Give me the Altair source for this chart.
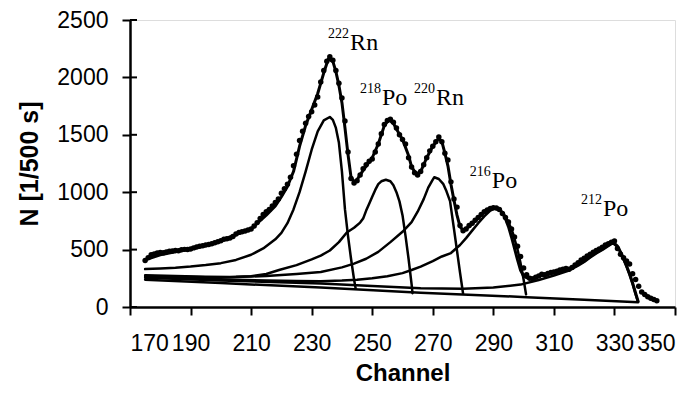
import altair as alt
import pandas as pd

# ---- measured spectrum (dots), one value per channel 175..344 ----
channels = list(range(175, 345))
counts = [
    405, 430, 455, 462, 470, 475, 472, 480, 485, 488,
    492, 490, 498, 502, 500, 506, 515, 522, 530, 534,
    540, 545, 550, 560, 568, 578, 590, 595, 600, 615,
    635, 650, 655, 662, 670, 680, 705, 735, 770, 805,
    830, 850, 880, 910, 940, 990, 1030, 1070, 1130, 1230,
    1330, 1450, 1530, 1600, 1660, 1700, 1760, 1830, 1960, 2060,
    2140, 2180, 2150, 2060, 1950, 1820, 1620, 1350, 1120, 1080,
    1100, 1150, 1205, 1240, 1270, 1290, 1350, 1420, 1510, 1590,
    1625, 1635, 1610, 1560, 1500, 1460, 1420, 1300, 1220, 1170,
    1150, 1180, 1240, 1300, 1360, 1400, 1440, 1480, 1440, 1340,
    1280, 1090, 940, 870, 710, 665, 680, 710, 730, 755,
    780, 805, 830, 845, 858, 865, 862, 850, 815, 780,
    740, 680, 610, 530, 440, 340, 280, 250, 245, 260,
    270, 285, 280, 292, 300, 305, 312, 322, 330, 335,
    328, 345, 365, 385, 410, 425, 445, 460, 478, 492,
    505, 520, 540, 550, 565, 575, 510, 460, 430, 400,
    375, 290, 240, 180, 130, 108, 90, 76, 65, 55,
]

# ---- total fit ----
fit_ch = [175, 180, 185, 190, 195, 200, 205, 210, 215, 218, 220, 222, 224, 226, 228, 230, 232, 234,
          235.5, 237, 238, 239, 240, 241, 242, 243, 244, 245, 247, 250, 252, 254, 255.5, 257, 258,
          260, 262, 263, 264.5, 266, 268, 270, 272, 273, 274, 275, 276, 277, 278, 279, 280, 282,
          284, 286, 288, 290, 292, 293, 294, 295, 296, 297, 298, 299, 300, 301, 302, 304, 306,
          310, 315, 318, 320, 322, 324, 326, 328, 329.5, 331, 332, 333, 334, 335, 336, 337, 337.8]
fit_n = [410, 455, 480, 505, 535, 575, 630, 680, 800, 880, 960, 1050, 1180, 1400, 1580, 1720, 1860, 2040,
         2160, 2140, 2050, 1930, 1780, 1560, 1330, 1130, 1090, 1110, 1190, 1300, 1420, 1580, 1630, 1600, 1550,
         1460, 1320, 1220, 1160, 1180, 1300, 1400, 1470, 1440, 1340, 1230, 1070, 930, 800, 700, 670, 700,
         750, 805, 845, 862, 850, 820, 770, 700, 610, 510, 410, 320, 270, 255, 250, 258, 275,
         300, 330, 370, 400, 440, 475, 505, 540, 565, 530, 480, 420, 360, 290, 210, 120, 50]

# ---- components ----
rn222_ch = [175, 180, 185, 190, 195, 200, 205, 210, 214, 218, 220, 222, 224, 226, 228, 230, 232, 234,
            236, 237, 238, 239, 240, 241, 242, 243, 244, 244.5]
rn222_n = [330, 335, 342, 352, 365, 382, 410, 455, 510, 590, 645, 730, 850, 1000, 1180, 1370, 1530, 1625,
           1655, 1630, 1560, 1430, 1180, 850, 620, 420, 240, 165]

po218_ch = [175, 185, 195, 203, 210, 215, 219.5, 225, 230, 233, 236, 239, 241.6, 244, 246, 247, 248, 249,
            250, 251, 252, 253, 254.5, 256, 257, 258, 259, 260, 261, 262, 263, 263.3]
po218_n = [277, 270, 264, 262, 268, 288, 325, 365, 415, 448, 492, 565, 649, 690, 735, 770, 840, 900,
           960, 1020, 1070, 1095, 1108, 1095, 1060, 1000, 920, 800, 620, 420, 200, 120]

rn220_ch = [175, 185, 195, 205, 215, 225, 233, 240, 244, 248, 252, 256, 260, 263, 265, 267, 268.5, 270,
            270.5, 272, 273.5, 274.5, 275.7, 277, 278, 279, 280]
rn220_n = [270, 264, 260, 261, 270, 287, 305, 345, 378, 420, 480, 565, 655, 740, 830, 940, 1040, 1110,
           1130, 1115, 1070, 1010, 922, 680, 490, 300, 118]

po216_ch = [175, 185, 195, 205, 215, 225, 233, 240, 245, 250, 255, 260, 263, 266, 270, 273, 276, 279,
            281, 283, 285, 287, 289, 290.5, 292, 293.5, 295, 296.5, 298, 299, 300, 300.8]
po216_n = [262, 254, 246, 238, 231, 226, 224, 230, 238, 250, 268, 295, 322, 352, 400, 440, 470, 540,
           600, 665, 730, 790, 840, 860, 850, 810, 740, 640, 500, 380, 240, 110]

po212_ch = [175, 200, 233, 250, 266, 280, 290, 299, 305, 310, 315, 318, 320, 322, 324, 326, 328, 329.5,
            331, 332, 333, 334, 335, 336, 337, 337.8]
po212_n = [255, 230, 205, 182, 164, 160, 170, 195, 235, 275, 318, 360, 392, 432, 467, 497, 532, 555,
           525, 475, 415, 350, 280, 200, 110, 45]

bg_ch = [175, 200, 233, 266, 301, 320, 337.8]
bg_n = [238, 208, 170, 124, 86, 63, 42]

# ---- peak labels ----
label_ch = [242.7, 253.2, 271.1, 289.5, 326.2]
label_n = [2241, 1759, 1759, 1034, 793]
label_el = ["Rn", "Po", "Rn", "Po", "Po"]
label_mass = ["222", "218", "220", "216", "212"]
sup_offset = 103

x_ticks = list(range(170, 351, 20))
y_ticks = [0, 500, 1000, 1500, 2000, 2500]

# ---- tables ----
dots = pd.DataFrame({"ch": channels, "n": counts})

parts = []
for name, cs, ns, w in [
    ("fit", fit_ch, fit_n, 3.0),
    ("rn222", rn222_ch, rn222_n, 2.5),
    ("po218", po218_ch, po218_n, 2.5),
    ("rn220", rn220_ch, rn220_n, 2.5),
    ("po216", po216_ch, po216_n, 2.5),
    ("po212", po212_ch, po212_n, 2.5),
    ("bg", bg_ch, bg_n, 2.5),
]:
    parts.append(pd.DataFrame({"ch": cs, "n": ns, "series": name, "w": w}))
lines = pd.concat(parts, ignore_index=True)

labels = pd.DataFrame({"ch": label_ch, "n": label_n, "el": label_el, "mass": label_mass,
                       "n_sup": [v + sup_offset for v in label_n]})
ticks_df = pd.DataFrame({"n": y_ticks})

xs = alt.Scale(domain=[170, 350], nice=False, zero=False)
ys = alt.Scale(domain=[0, 2500], nice=False)

x_axis = alt.Axis(values=x_ticks, title="Channel", grid=False, format="d", labelFont="Liberation Sans",
                  labelFontSize=23, labelColor="black", labelPadding=17, tickSize=8, tickWidth=2,
                  tickColor="black", domainColor="black", domainWidth=2.5, titleFont="Liberation Sans",
                  titleFontSize=24, titleFontWeight="bold", titleColor="black", titlePadding=6)
y_axis = alt.Axis(values=y_ticks, title="N [1/500 s]", grid=False, format="d", labelFont="Liberation Sans",
                  labelFontSize=23, labelColor="black", labelPadding=14, tickSize=8, tickWidth=2,
                  tickColor="black", domainColor="black", domainWidth=2.5, titleFont="Liberation Sans",
                  titleFontSize=25, titleFontWeight="bold", titleColor="black", titlePadding=14)

line_layer = alt.Chart(lines).mark_line(color="black", strokeCap="round", strokeJoin="round").encode(
    x=alt.X("ch:Q", scale=xs, axis=x_axis),
    y=alt.Y("n:Q", scale=ys, axis=y_axis),
    detail="series:N",
    strokeWidth=alt.StrokeWidth("w:Q", scale=None),
)

dot_layer = alt.Chart(dots).mark_point(filled=True, color="black", size=30, opacity=1).encode(
    x=alt.X("ch:Q", scale=xs),
    y=alt.Y("n:Q", scale=ys),
)

inner_ticks = alt.Chart(ticks_df).mark_rule(color="black", strokeWidth=2).encode(
    x=alt.value(0), x2=alt.value(7), y=alt.Y("n:Q", scale=ys),
)

el_text = alt.Chart(labels).mark_text(align="left", baseline="alphabetic", font="Liberation Serif",
                                      fontSize=24, color="black").encode(
    x=alt.X("ch:Q", scale=xs), y=alt.Y("n:Q", scale=ys), text="el:N",
)
mass_text = alt.Chart(labels).mark_text(align="right", baseline="alphabetic", font="Liberation Serif",
                                        fontSize=14, color="black", dx=-1).encode(
    x=alt.X("ch:Q", scale=xs), y=alt.Y("n_sup:Q", scale=ys), text="mass:N",
)

chart = alt.layer(line_layer, dot_layer, inner_ticks, el_text, mass_text).properties(
    width=545, height=287,
    autosize=alt.AutoSizeParams(type="none"),
    padding={"left": 122, "top": 12, "right": 12, "bottom": 80},
).configure_view(stroke="black", strokeWidth=2).configure(background="white")

chart.save("out.html", embed_options={"renderer": "svg", "actions": False})
